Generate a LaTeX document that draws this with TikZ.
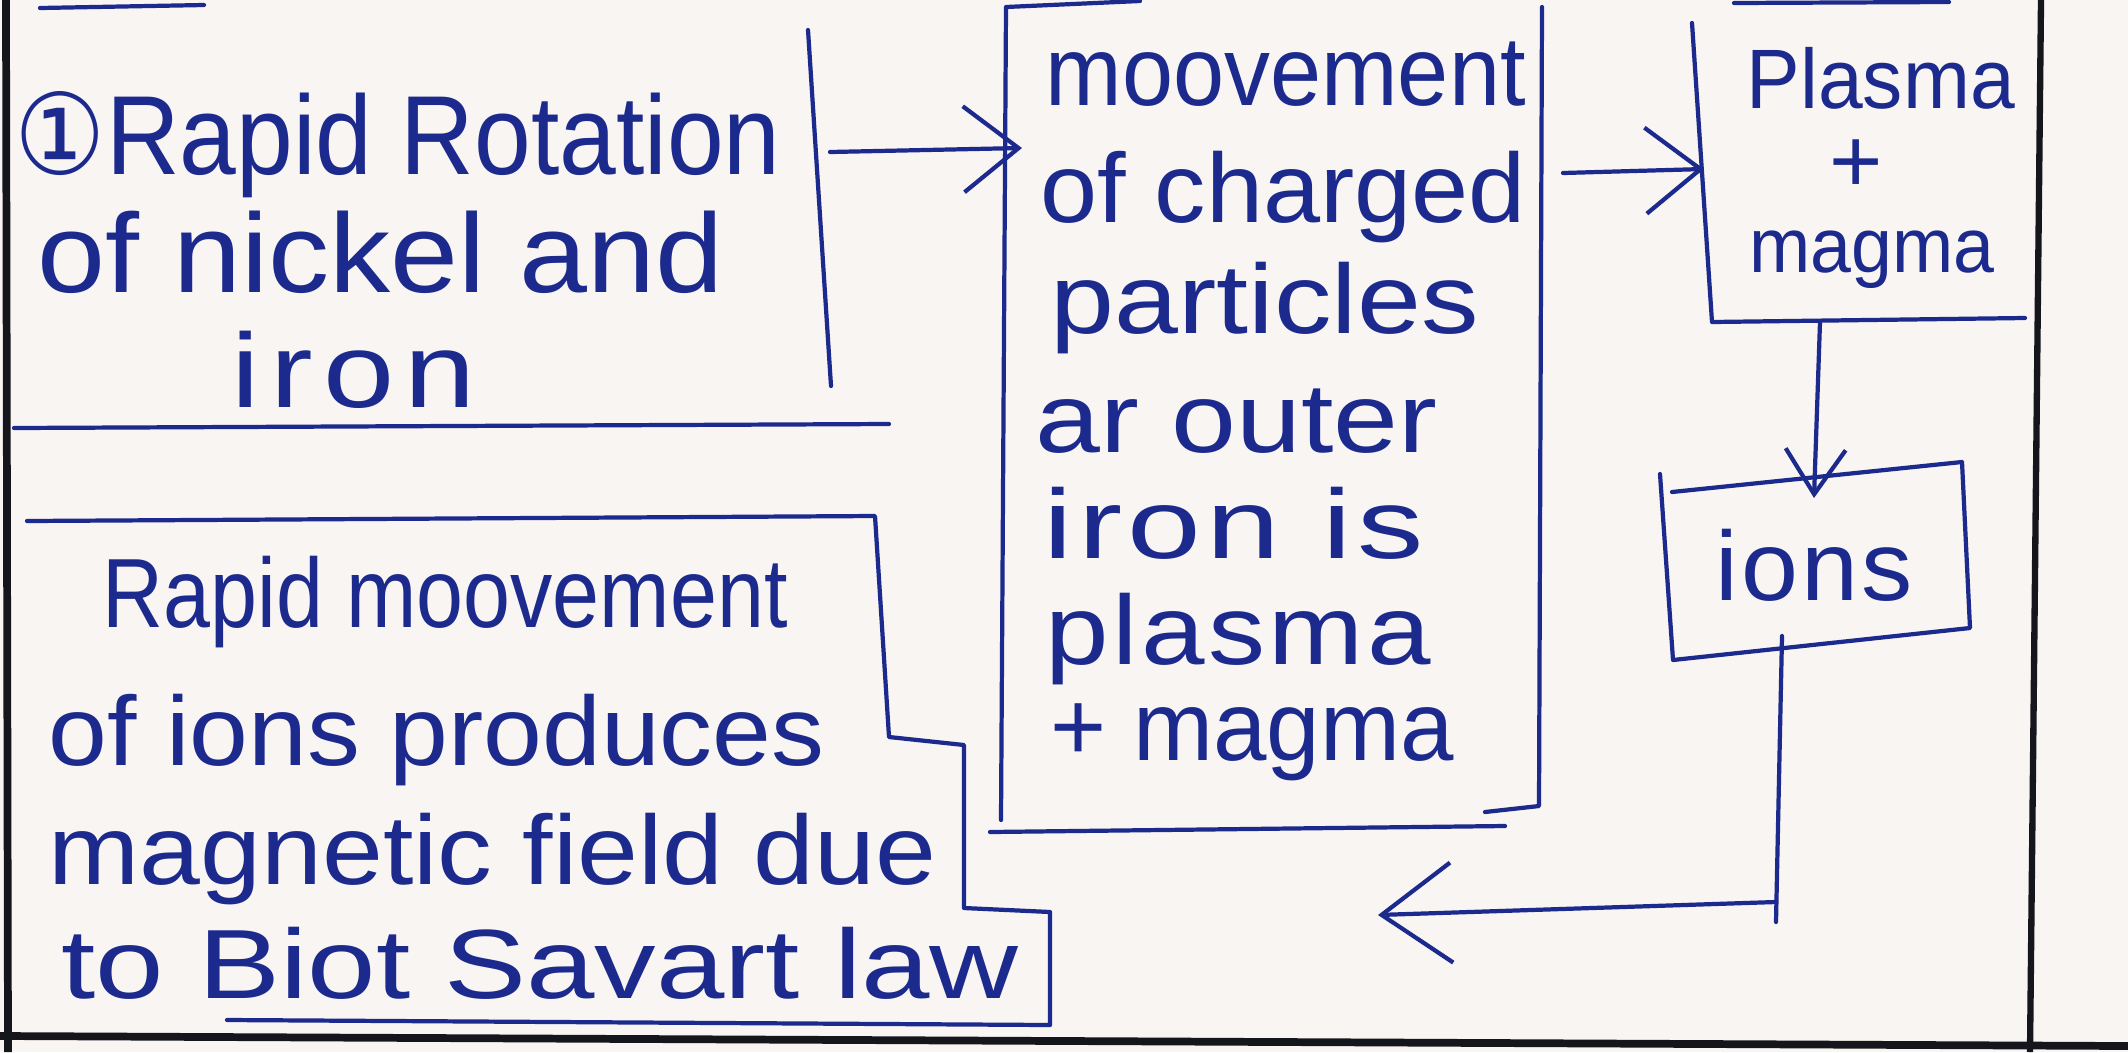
\documentclass[tikz,border=0pt]{standalone}
\usepackage{fontspec}
\setmainfont{Liberation Sans}
\newfontfamily\symfont{DejaVu Sans}
\usetikzlibrary{arrows.meta}
\definecolor{ink}{HTML}{1C2A8E}
\definecolor{framecol}{HTML}{15151C}
\definecolor{paper}{HTML}{F8F5F2}
% set a line of text to a given width (in mm), keeping its height
\newcommand\fitw[2]{\resizebox{#1mm}{\height}{#2}}
% loosely spaced letters
\newcommand\loose[2]{{\addfontfeatures{LetterSpace=#1}#2}}

\begin{document}
\begin{tikzpicture}[x=0.1mm,y=-0.1mm,
  inkline/.style={draw=ink, line width=1.2pt, line cap=round, line join=round},
  arr/.style={inkline, -{Straight Barb[length=5.5mm,width=8.6mm]}},
  arrsmall/.style={inkline, -{Straight Barb[length=4.5mm,width=6mm]}},
  arrbig/.style={inkline, -{Straight Barb[length=7mm,width=10mm]}},
  txt/.style={anchor=base west, inner sep=0pt, text=ink, font=\fontsize{28}{28}\selectfont},
  big/.style={font=\fontsize{32}{32}\selectfont},
  small/.style={font=\fontsize{22}{22}\selectfont},
  frameline/.style={draw=framecol, line width=2.2pt}]

% paper
\fill[paper] (0,0) rectangle (2128,1052);
\useasboundingbox (0,0) rectangle (2128,1052);

% ---------- box 1: rotation of nickel and iron ----------
\node[txt,big] (r1) at (14,174) {\fitw{76.6}{{\symfont ①}Rapid Rotation}};
\node[txt,big] (r2) at (37,292) {\fitw{68.6}{of nickel and}};
\node[txt,font=\fontsize{30}{30}\selectfont] (r3) at (231,407) {\fitw{24.4}{\loose{8}{iron}}};
\draw[inkline] (40,8) -- (204,5);
\draw[inkline] (808,30) -- (831,386);
\draw[inkline] (14,428) -- (889,424);

% ---------- box 2: moving charged particles ----------
\node[txt] (m1) at (1045,105) {\fitw{48}{moovement}};
\node[txt] (m2) at (1040,222) {\fitw{48.5}{of charged}};
\node[txt] (m3) at (1050,333) {\fitw{42.8}{particles}};
\node[txt] (m4) at (1035,452) {\fitw{40.2}{ar outer}};
\node[txt] (m5) at (1043,558) {\fitw{38}{\loose{4}{iron is}}};
\node[txt] (m6) at (1045,664) {\fitw{38.5}{\loose{3}{plasma}}};
\node[txt] (m7) at (1050,760) {\fitw{40.3}{+ magma}};
\draw[inkline] (1140,1) -- (1006,7) -- (1001,820);
\draw[inkline] (1542,7) -- (1539,806) -- (1485,812);
\draw[inkline] (990,832) -- (1505,826);

% ---------- box 3: plasma + magma ----------
\node[txt,font=\fontsize{24}{24}\selectfont] (p1) at (1746,108) {\fitw{26.8}{Plasma}};
\node[inner sep=0pt, text=ink, font=\fontsize{26}{26}\selectfont] (p2) at (1856,166) {+};
\node[txt,small] (p3) at (1749,272) {\fitw{24.5}{magma}};
\draw[inkline] (1734,3) -- (1949,2);
\draw[inkline] (1692,23) -- (1712,322) -- (2025,318);

% ---------- box: ions ----------
\node[txt] (io) at (1715,600) {\fitw{19.7}{\loose{3}{ions}}};
\draw[inkline] (1660,474) -- (1673,660) -- (1970,628) -- (1962,462) -- (1672,492);

% ---------- box 4: magnetic field ----------
\node[txt] (f1) at (102,627) {\fitw{68.5}{Rapid moovement}};
\node[txt] (f2) at (48,765) {\fitw{77.6}{of ions produces}};
\node[txt] (f3) at (48,884) {\fitw{88.8}{magnetic field due}};
\node[txt] (f4) at (61,998) {\fitw{95.7}{to Biot Savart law}};
\draw[inkline] (27,521) -- (875,516) -- (889,737) -- (964,745) -- (964,908)
  -- (1050,912) -- (1050,1025) -- (227,1020);

% ---------- connectors ----------
\coordinate (b1out) at (830,152);
\coordinate (b2in)  at (1022,148);
\coordinate (b2out) at (1563,173);
\coordinate (b3in)  at (1704,169);
\coordinate (b3out) at (1820,322);
\coordinate (ionin) at (1814,498);
\coordinate (ionout) at (1782,636);
\coordinate (turnlow) at (1776,922);
\coordinate (turn) at (1776,902);
\coordinate (b4in) at (1378,915);

\draw[arr] (b1out) -- (b2in);
\draw[arr] (b2out) -- (b3in);
\draw[arrsmall] (b3out) -- (ionin);
\draw[inkline] (ionout) -- (turnlow);
\draw[arrbig] (turn) -- (b4in);

% ---------- page frame ----------
\draw[frameline] (6,0) -- (8,1052);
\draw[frameline] (0,1036) -- (2128,1046);
\draw[frameline, line width=1.8pt] (2041,0) -- (2030,1052);
\end{tikzpicture}
\end{document}
